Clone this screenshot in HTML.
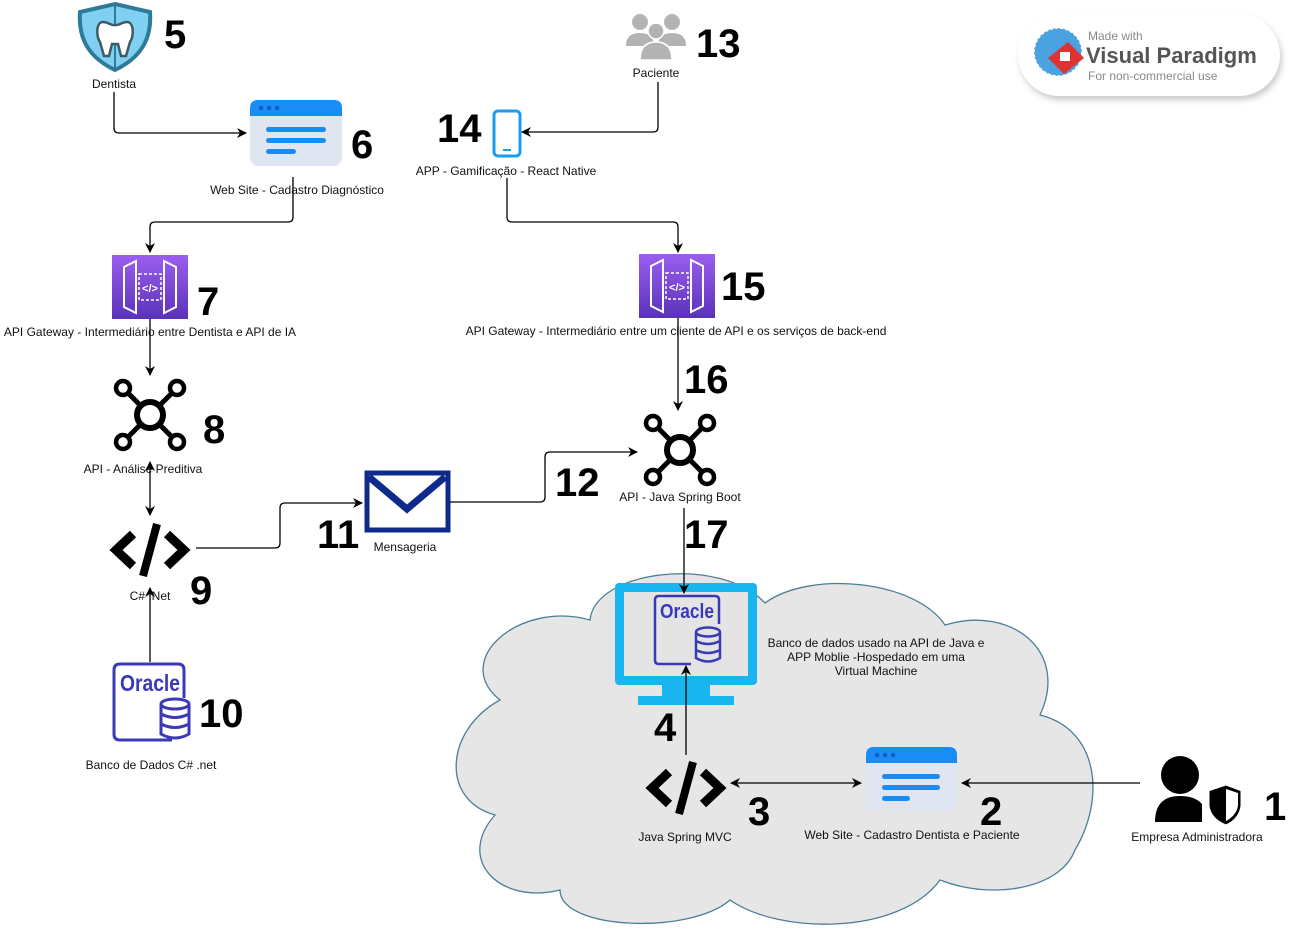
<!DOCTYPE html>
<html><head><meta charset="utf-8"><style>
html,body{margin:0;padding:0;background:#fff;}
svg{display:block;}
text{font-family:"Liberation Sans",sans-serif;}
.lb{font-size:12px;fill:#111;text-anchor:middle;}
.n{font-size:40px;font-weight:bold;fill:#000;}
.c{fill:none;stroke:#000;stroke-width:1.3;}
</style></head><body>
<svg width="1294" height="947" viewBox="0 0 1294 947" xmlns="http://www.w3.org/2000/svg">
<defs>
<marker id="a" markerWidth="10" markerHeight="10" refX="9" refY="5" orient="auto-start-reverse" markerUnits="userSpaceOnUse"><path d="M0,0 L10,5 L0,10 L3,5 Z" fill="#000"/></marker>
<linearGradient id="pg" x1="0" y1="0" x2="0" y2="1"><stop offset="0" stop-color="#9b5ef0"/><stop offset="1" stop-color="#5a32b8"/></linearGradient>
<filter id="sh" x="-10%" y="-20%" width="120%" height="140%"><feGaussianBlur stdDeviation="3"/></filter>
</defs>

<!-- cloud -->
<path d="M590,620 C595,570 720,555 765,603 C810,570 915,580 945,625 C1010,605 1070,650 1040,715 C1100,730 1105,800 1075,850 C1060,890 990,900 940,880 C900,935 780,935 730,900 C690,935 560,930 560,890 C500,905 455,860 495,815 C440,800 445,730 500,700 C450,660 520,600 590,620 Z" fill="#e6e6e6" stroke="#4a7f96" stroke-width="1.3"/>

<!-- VP logo -->
<rect x="1020" y="18" width="262" height="82" rx="41" fill="#ccc" filter="url(#sh)"/>
<rect x="1018" y="14" width="262" height="82" rx="41" fill="#fff"/>
<circle cx="1058" cy="52" r="24" fill="#4aa3e0"/>
<circle cx="1058" cy="52" r="24" fill="none" stroke="#fff" stroke-width="1.5" stroke-dasharray="3 2"/>
<path d="M1048,58 L1068,42 L1084,58 L1064,74 Z" fill="#d33"/>
<rect x="1060" y="52" width="10" height="9" fill="#fff"/>
<text x="1088" y="40" font-size="12" fill="#888">Made with</text>
<text x="1086" y="63" font-size="22" font-weight="bold" fill="#555">Visual Paradigm</text>
<text x="1088" y="80" font-size="12" fill="#888">For non-commercial use</text>

<!-- 5 dentist -->
<path d="M115,4 L150,12 C152,40 140,58 115,70 C90,58 78,40 80,12 Z" fill="#7fd0f2" stroke="#2d7b99" stroke-width="4"/>
<line x1="115" y1="4" x2="115" y2="70" stroke="#2d7b99" stroke-width="2"/>
<path d="M103,22 C96,22 96,36 100,42 L104,56 L109,56 L112,44 L118,44 L121,56 L126,56 L130,42 C134,36 134,22 127,22 C122,22 118,26 115,25 C112,26 108,22 103,22 Z" fill="#fff" stroke="#3c5b66" stroke-width="2.5"/>
<text class="n" x="164" y="48">5</text>
<text class="lb" x="114" y="88">Dentista</text>
<path class="c" d="M114,92 V128 Q114,133 119,133 H246" marker-end="url(#a)"/>

<!-- 6 web -->
<g transform="translate(250,100)">
<rect width="92" height="66" rx="8" fill="#dfe5f1"/>
<path d="M0,8 Q0,0 8,0 H84 Q92,0 92,8 V16 H0 Z" fill="#1a8cf5"/>
<circle cx="11" cy="8" r="2.3" fill="#0a5fc0"/><circle cx="19" cy="8" r="2.3" fill="#0a5fc0"/><circle cx="27" cy="8" r="2.3" fill="#0a5fc0"/>
<rect x="16" y="27" width="60" height="5" rx="2.5" fill="#1a8cf5"/><rect x="16" y="38" width="60" height="5" rx="2.5" fill="#1a8cf5"/><rect x="16" y="49" width="30" height="5" rx="2.5" fill="#1a8cf5"/>
</g>
<text class="n" x="351" y="158">6</text>
<text class="lb" x="297" y="194">Web Site - Cadastro Diagnóstico</text>
<path class="c" d="M293,177 V217 Q293,222 288,222 H155 Q150,222 150,227 V252" marker-end="url(#a)"/>

<!-- 7 gateway -->
<g transform="translate(112,255)">
<rect width="76" height="64" fill="url(#pg)"/>
<path d="M12,12 L24,6 V58 L12,52 Z M64,12 L52,6 V58 L64,52 Z" fill="none" stroke="#fff" stroke-width="2"/>
<rect x="27" y="19" width="22" height="26" fill="none" stroke="#fff" stroke-width="1.5" stroke-dasharray="3 2"/>
<text x="38" y="37" font-size="11" fill="#fff" text-anchor="middle" font-weight="bold">&lt;/&gt;</text>
</g>
<text class="n" x="197" y="315">7</text>
<text class="lb" x="150" y="336">API Gateway - Intermediário entre Dentista e API de IA</text>
<path class="c" d="M150,319 V375" marker-end="url(#a)"/>

<!-- 8 hub -->
<g transform="translate(150,415)" fill="none" stroke="#000">
<path d="M-10,-10 L-22,-22 M10,-10 L22,-22 M-10,10 L-22,22 M10,10 L22,22" stroke-width="5"/>
<circle r="13" stroke-width="6"/>
<circle cx="-27" cy="-27" r="7" stroke-width="4.5"/><circle cx="27" cy="-27" r="7" stroke-width="4.5"/>
<circle cx="-27" cy="27" r="7" stroke-width="4.5"/><circle cx="27" cy="27" r="7" stroke-width="4.5"/>
</g>
<text class="n" x="203" y="443">8</text>
<text class="lb" x="143" y="473">API - Análise Preditiva</text>
<path class="c" d="M150,462 V515" marker-start="url(#a)" marker-end="url(#a)"/>

<!-- 9 code -->
<g transform="translate(150,550)" fill="none" stroke="#000" stroke-width="9">
<path d="M-17,-16 L-34,0 L-17,16"/><path d="M17,-16 L34,0 L17,16"/><path d="M7,-26 L-7,26" stroke-width="8"/>
</g>
<text class="lb" x="150" y="600">C# .Net</text>
<text class="n" x="190" y="604">9</text>

<!-- 10 oracle -->
<g transform="translate(112,662)">
<path d="M60,78 H8 Q2,78 2,72 V8 Q2,2 8,2 H66 Q72,2 72,8 V36" fill="none" stroke="#3a3ab8" stroke-width="3"/>
<text x="8" y="29" font-size="23" font-weight="bold" fill="#3a3ab8" textLength="60" lengthAdjust="spacingAndGlyphs">Oracle</text>
<g fill="none" stroke="#3a3ab8" stroke-width="3"><ellipse cx="63" cy="42" rx="14" ry="5"/><path d="M49,42 V72 Q63,80 77,72 V42 M49,52 Q63,59 77,52 M49,62 Q63,69 77,62"/></g>
</g>
<text class="n" x="199" y="727">10</text>
<text class="lb" x="151" y="769">Banco de Dados C# .net</text>
<path class="c" d="M150,662 V588" marker-end="url(#a)"/>

<!-- 11 mail -->
<path class="c" d="M196,548 H275 Q280,548 280,543 V508 Q280,503 285,503 H362" marker-end="url(#a)"/>
<g transform="translate(365,471)">
<rect x="2" y="2" width="81" height="57" fill="#fff" stroke="#0d2a8c" stroke-width="5"/>
<path d="M4,6 L42,38 L80,6" fill="none" stroke="#0d2a8c" stroke-width="7"/>
</g>
<text class="n" x="317" y="548">11</text>
<text class="lb" x="405" y="551">Mensageria</text>
<path class="c" d="M450,502 H540 Q545,502 545,497 V457 Q545,452 550,452 H637" marker-end="url(#a)"/>
<text class="n" x="555" y="496">12</text>

<!-- 16 hub -->
<g transform="translate(680,450)" fill="none" stroke="#000">
<path d="M-10,-10 L-22,-22 M10,-10 L22,-22 M-10,10 L-22,22 M10,10 L22,22" stroke-width="5"/>
<circle r="13" stroke-width="6"/>
<circle cx="-27" cy="-27" r="7" stroke-width="4.5"/><circle cx="27" cy="-27" r="7" stroke-width="4.5"/>
<circle cx="-27" cy="27" r="7" stroke-width="4.5"/><circle cx="27" cy="27" r="7" stroke-width="4.5"/>
</g>
<text class="lb" x="680" y="501">API - Java Spring Boot</text>
<text class="n" x="684" y="393">16</text>

<!-- 15 gateway -->
<g transform="translate(639,254)">
<rect width="76" height="64" fill="url(#pg)"/>
<path d="M12,12 L24,6 V58 L12,52 Z M64,12 L52,6 V58 L64,52 Z" fill="none" stroke="#fff" stroke-width="2"/>
<rect x="27" y="19" width="22" height="26" fill="none" stroke="#fff" stroke-width="1.5" stroke-dasharray="3 2"/>
<text x="38" y="37" font-size="11" fill="#fff" text-anchor="middle" font-weight="bold">&lt;/&gt;</text>
</g>
<text class="n" x="721" y="300">15</text>
<text class="lb" x="676" y="335">API Gateway - Intermediário entre um cliente de API e os serviços de back-end</text>
<path class="c" d="M678,318 V410" marker-end="url(#a)"/>

<!-- 14 phone -->
<rect x="494" y="111" width="26" height="45" rx="4" fill="none" stroke="#1a9cf0" stroke-width="3"/>
<line x1="503" y1="150" x2="511" y2="150" stroke="#1a9cf0" stroke-width="2"/>
<text class="n" x="437" y="142">14</text>
<text class="lb" x="506" y="175">APP - Gamificação - React Native</text>

<!-- 13 people -->
<g fill="#b3b3b3">
<circle cx="640" cy="22" r="8"/><path d="M626,46 Q626,33 640,33 Q654,33 654,46 Z"/>
<circle cx="672" cy="22" r="8"/><path d="M658,46 Q658,33 672,33 Q686,33 686,46 Z"/>
<circle cx="656" cy="31" r="8" stroke="#fff" stroke-width="1.5"/><path d="M640,60 Q640,42 656,42 Q672,42 672,60 Z" stroke="#fff" stroke-width="1.5"/>
</g>
<text class="n" x="696" y="57">13</text>
<text class="lb" x="656" y="77">Paciente</text>
<path class="c" d="M658,82 V127 Q658,132 653,132 H522" marker-end="url(#a)"/>
<path class="c" d="M507,178 V217 Q507,222 512,222 H673 Q678,222 678,227 V252" marker-end="url(#a)"/>

<text class="n" x="684" y="548">17</text>

<!-- monitor -->
<rect x="615" y="583" width="142" height="102" rx="4" fill="#19b5ee"/>
<rect x="624" y="592" width="124" height="84" fill="#e4e4e4"/>
<rect x="662" y="685" width="48" height="13" fill="#19b5ee"/>
<rect x="638" y="696" width="96" height="9" fill="#19b5ee"/>
<g transform="translate(653,594)">
<path d="M38,70 H6 Q2,70 2,66 V6 Q2,2 6,2 H62 Q66,2 66,6 V30" fill="none" stroke="#3a3ab8" stroke-width="2.5"/>
<text x="7" y="24" font-size="20" font-weight="bold" fill="#3a3ab8" textLength="54" lengthAdjust="spacingAndGlyphs">Oracle</text>
<g fill="none" stroke="#3a3ab8" stroke-width="2.5"><ellipse cx="55" cy="38" rx="12" ry="4.5"/><path d="M43,38 V64 Q55,71 67,64 V38 M43,47 Q55,53 67,47 M43,56 Q55,62 67,56"/></g>
</g>
<path class="c" d="M684,508 V593" marker-end="url(#a)"/>
<text class="lb" x="876" y="647">Banco de dados usado na API de Java e</text>
<text class="lb" x="876" y="661">APP Moblie -Hospedado em uma</text>
<text class="lb" x="876" y="675">Virtual Machine</text>

<text class="n" x="654" y="741">4</text>
<path class="c" d="M686,755 V666" marker-end="url(#a)"/>

<!-- 3 code -->
<g transform="translate(686,788)" fill="none" stroke="#000" stroke-width="9">
<path d="M-17,-16 L-34,0 L-17,16"/><path d="M17,-16 L34,0 L17,16"/><path d="M7,-26 L-7,26" stroke-width="8"/>
</g>
<text class="lb" x="685" y="841">Java Spring MVC</text>
<text class="n" x="748" y="825">3</text>
<path class="c" d="M731,783 H861" marker-start="url(#a)" marker-end="url(#a)"/>

<!-- 2 web -->
<g transform="translate(866,747)">
<rect width="91" height="64" rx="8" fill="#dfe5f1"/>
<path d="M0,8 Q0,0 8,0 H83 Q91,0 91,8 V16 H0 Z" fill="#1a8cf5"/>
<circle cx="11" cy="8" r="2.3" fill="#0a5fc0"/><circle cx="19" cy="8" r="2.3" fill="#0a5fc0"/><circle cx="27" cy="8" r="2.3" fill="#0a5fc0"/>
<rect x="16" y="27" width="58" height="5" rx="2.5" fill="#1a8cf5"/><rect x="16" y="38" width="58" height="5" rx="2.5" fill="#1a8cf5"/><rect x="16" y="49" width="28" height="5" rx="2.5" fill="#1a8cf5"/>
</g>
<text class="n" x="980" y="825">2</text>
<text class="lb" x="912" y="839">Web Site - Cadastro Dentista e Paciente</text>
<path class="c" d="M1140,783 H962" marker-end="url(#a)"/>

<!-- 1 admin -->
<circle cx="1180" cy="775" r="19" fill="#000"/>
<path d="M1155,822 Q1155,796 1180,796 Q1195,796 1202,804 V822 Z" fill="#000"/>
<path d="M1208,790 L1226,784 L1242,790 V806 Q1240,820 1226,826 Q1210,820 1208,806 Z" fill="#000" stroke="#fff" stroke-width="3"/>
<path d="M1226,789 V821 Q1237,815 1238,805 V793 Z" fill="#fff"/>
<text class="n" x="1264" y="820">1</text>
<text class="lb" x="1197" y="841">Empresa Administradora</text>
</svg>
</body></html>
